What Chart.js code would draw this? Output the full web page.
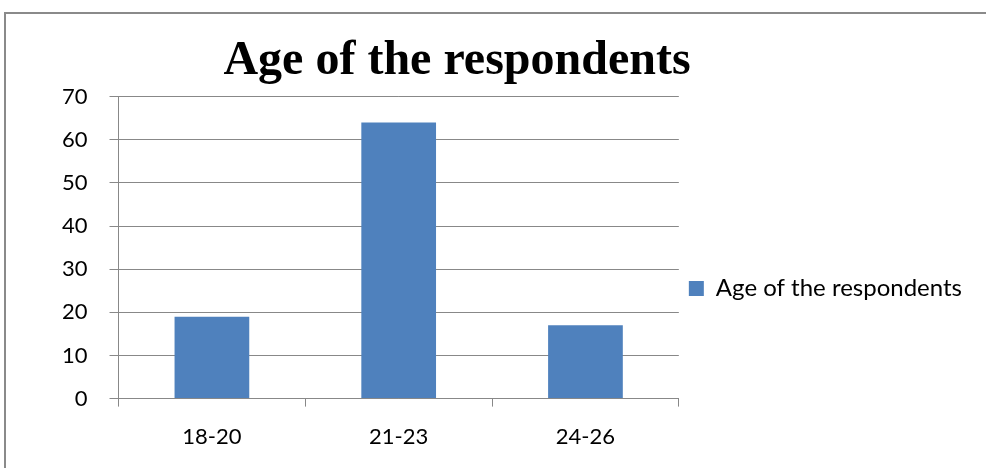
<!DOCTYPE html>
<html>
<head>
<meta charset="utf-8">
<script src="https://cdn.jsdelivr.net/npm/chart.js"></script>
<style>
  html, body { margin: 0; padding: 0; background: #fff; overflow: hidden; }
  #frame {
    position: absolute; left: 4px; top: 12px;
    width: 1100px; height: 600px;
    border: 2px solid #8a8a8a;
  }
  #wrap { position: absolute; left: 0; top: 0; width: 986px; height: 468px; }
</style>
</head>
<body>
<div id="frame"></div>
<div id="wrap"><canvas id="ageChart"></canvas></div>
<script>
// Chart data
const categories = ['18-20', '21-23', '24-26'];
const respondents = [19, 64, 17];
const yTicks = [0, 10, 20, 30, 40, 50, 60, 70];
const seriesName = 'Age of the respondents';
const chartTitle = 'Age of the respondents';

const barColor = '#4F81BD';
const lineColor = '#888888';

// The original title sits centred over the whole chart box, not the canvas
const titleShift = {
    id: 'titleShift',
    afterLayout(chart) {
        const t = chart.titleBlock;
        const dx = 457 - (t.left + t.right) / 2;
        t.left += dx;
        t.right += dx;
    }
};

const ctx = document.getElementById('ageChart').getContext('2d');
new Chart(ctx, {
    type: 'bar',
    data: {
        labels: categories,
        datasets: [{
            label: seriesName,
            data: respondents,
            backgroundColor: barColor,
            borderWidth: 0,
            barPercentage: 0.4,
            categoryPercentage: 1
        }]
    },
    options: {
        responsive: true,
        maintainAspectRatio: false,
        animation: false,
        layout: {
            padding: { left: 40, right: 14, top: 0, bottom: 1 }
        },
        plugins: {
            title: {
                display: true,
                text: chartTitle,
                color: '#000',
                font: { family: 'Liberation Serif', size: 48, weight: 'bold', lineHeight: 1.2 },
                padding: { top: 33, bottom: 6 }
            },
            legend: {
                position: 'right',
                maxWidth: 340,
                // empty legend title only pushes the entry down to where Excel put it
                title: {
                    display: true,
                    text: '',
                    font: { size: 12, lineHeight: 1 },
                    padding: { top: 49, bottom: 49 }
                },
                labels: {
                    boxWidth: 15,
                    boxHeight: 15,
                    padding: 10,
                    color: '#000',
                    font: { family: 'Lato', size: 24 }
                }
            },
            tooltip: { enabled: false }
        },
        scales: {
            x: {
                offset: true,
                grid: {
                    offset: true,
                    drawOnChartArea: false,
                    drawTicks: true,
                    tickLength: 8,
                    color: lineColor
                },
                border: { color: lineColor, width: 1 },
                ticks: {
                    color: '#000',
                    padding: 17,
                    font: { family: 'Lato', size: 22 }
                }
            },
            y: {
                min: yTicks[0],
                max: yTicks[yTicks.length - 1],
                afterBuildTicks(scale) {
                    scale.ticks = yTicks.map(v => ({ value: v }));
                },
                grid: {
                    color: lineColor,
                    tickLength: 9
                },
                border: { color: lineColor, width: 1 },
                ticks: {
                    color: '#000',
                    padding: 22,
                    font: { family: 'Lato', size: 22 }
                }
            }
        }
    },
    plugins: [titleShift]
});
</script>
</body>
</html>
